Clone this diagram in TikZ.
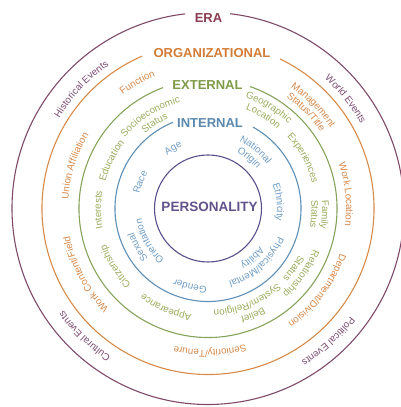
\documentclass[tikz,border=0pt]{standalone}
\usepackage{fontspec}
\setmainfont{Liberation Sans}
\usetikzlibrary{decorations.text}
\definecolor{eraC}{HTML}{7E4A68}
\definecolor{eraT}{HTML}{8A3C50}
\definecolor{eraL}{HTML}{7C4C72}
\definecolor{orgC}{HTML}{D88A48}
\definecolor{orgT}{HTML}{D27C36}
\definecolor{orgL}{HTML}{D6884A}
\definecolor{extC}{HTML}{86A35A}
\definecolor{extT}{HTML}{7E9B47}
\definecolor{extL}{HTML}{9AAB5C}
\definecolor{intC}{HTML}{5E8FB5}
\definecolor{intT}{HTML}{5B88AE}
\definecolor{intL}{HTML}{6E9CC4}
\definecolor{perC}{HTML}{5C4E8A}
\definecolor{perT}{HTML}{62528C}
\newcommand\itemfont{\fontsize{9.8}{11}\selectfont}
\newcommand\ringlabel[4]{\path[decorate,decoration={text along path,text align=center,text={|\itemfont\color{#3}|#4}}] (c) ++(#1+70:#2) arc[start angle=#1+70,end angle=#1-70,radius=#2];}
\tikzset{
  ring/.style={line width=1.1pt},
  title/.style={font=\bfseries\fontsize{13}{15}\selectfont, inner sep=0pt}
}
\begin{document}
\begin{tikzpicture}[x=1pt,y=1pt]
\useasboundingbox (0,0) rectangle (401,407);
\coordinate (c) at (208,198.5);
% circles with gaps for the titles
\draw[ring,eraC] (c) ++(96.7:196) arc[start angle=96.7,end angle=443.5,radius=196];
\draw[ring,orgC] (c) ++(113.4:166) arc[start angle=113.4,end angle=424.3,radius=166];
\draw[ring,extC] (c) ++(110.4:129) arc[start angle=110.4,end angle=431,radius=129];
\draw[ring,intC] (c) ++(112.1:93) arc[start angle=112.1,end angle=421.1,radius=93];
\draw[ring,perC] (c) circle[radius=53.5];
% titles
\node[title,eraT] (era) at (208.5,389) {ERA};
\node[title,orgT] (org) at (212,354) {ORGANIZATIONAL};
\node[title,extT] (ext) at (207.5,322) {EXTERNAL};
\node[title,intT] (int) at (210,284) {INTERNAL};
\node[title,perT,font=\bfseries\fontsize{13.5}{15}\selectfont] (per) at (209.5,200) {PERSONALITY};
% era ring
\ringlabel{136.7}{174}{eraL}{Historical Events}
\ringlabel{38.5}{174.5}{eraL}{World Events}
\ringlabel{-47.8}{178.5}{eraL}{Political Events}
\ringlabel{226}{177}{eraL}{Cultural Events}
% organizational ring
\ringlabel{119.3}{142}{orgL}{Function}
\ringlabel{162.3}{140}{orgL}{Union Affiliation}
\ringlabel{208.3}{141}{orgL}{Work Content/Field}
\ringlabel{270.8}{141.5}{orgL}{Seniority/Tenure}
\ringlabel{-36.9}{139.5}{orgL}{Department/Division}
\ringlabel{5.9}{138}{orgL}{Work Location}
\ringlabel{44.5}{146.5}{orgL}{Management}
\ringlabel{44.5}{136}{orgL}{Status/Title}
% external ring
\ringlabel{122}{109.5}{extL}{Socioeconomic}
\ringlabel{122}{98}{extL}{Status}
\ringlabel{153.7}{106}{extL}{Education}
\ringlabel{180.8}{107}{extL}{Interests}
\ringlabel{211.9}{108}{extL}{Citizenship}
\ringlabel{247}{107}{extL}{Appearance}
\ringlabel{293}{113}{extL}{Belief}
\ringlabel{293}{102}{extL}{System/Religion}
\ringlabel{325}{113}{extL}{Relationship}
\ringlabel{325}{102}{extL}{Status}
\ringlabel{-3}{114}{extL}{Family}
\ringlabel{-3}{103.5}{extL}{Status}
\ringlabel{28}{107}{extL}{Experiences}
\ringlabel{59}{117}{extL}{Geographic}
\ringlabel{59}{105.5}{extL}{Location}
% internal ring
\ringlabel{120}{67}{intL}{Age}
\ringlabel{158.7}{70}{intL}{Race}
\ringlabel{209}{78}{intL}{Sexual}
\ringlabel{209}{67}{intL}{Orientation}
\ringlabel{257}{77.5}{intL}{Gender}
\ringlabel{312}{75.5}{intL}{Physical/Mental}
\ringlabel{312}{64}{intL}{Ability}
\ringlabel{5.2}{69}{intL}{Ethnicity}
\ringlabel{51}{74}{intL}{National}
\ringlabel{51}{63}{intL}{Origin}
\end{tikzpicture}
\end{document}
